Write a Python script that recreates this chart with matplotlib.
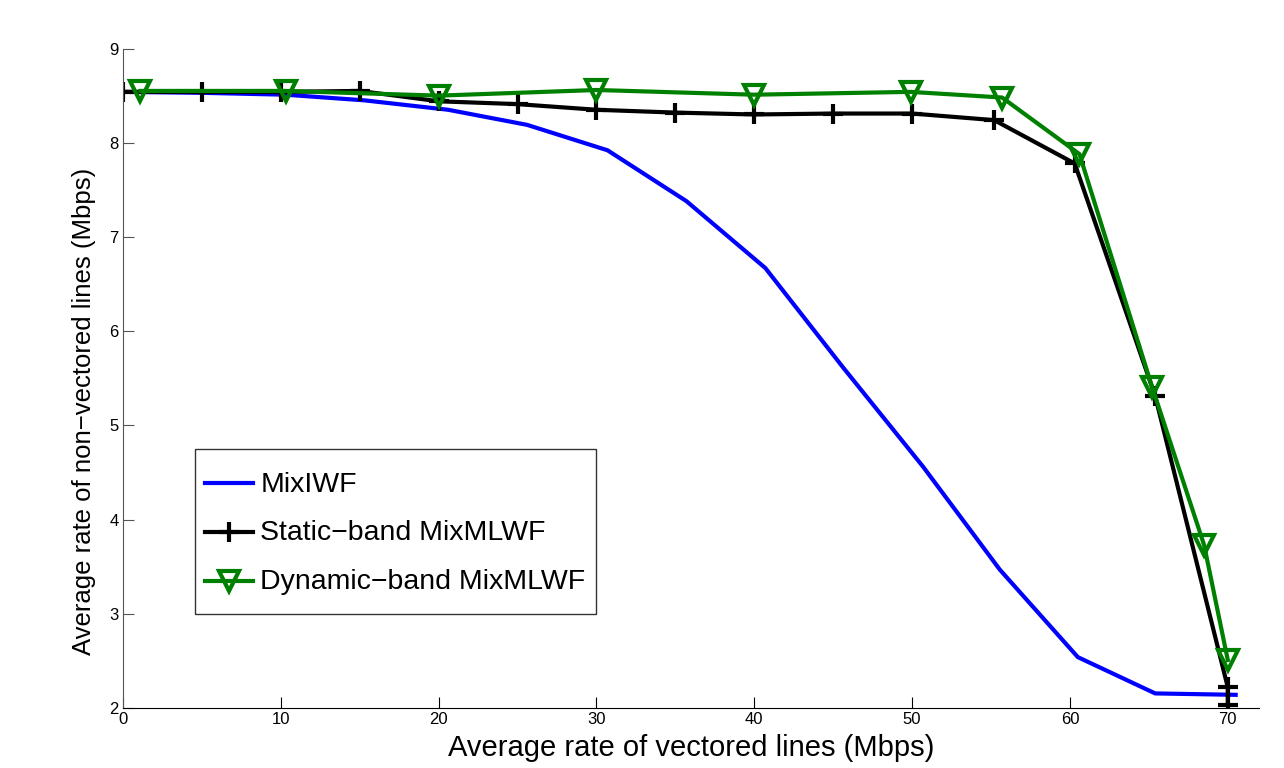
import matplotlib
matplotlib.use("Agg")
import matplotlib.pyplot as plt
import numpy as np
from matplotlib.lines import Line2D
from matplotlib.legend_handler import HandlerLine2D

plt.rcParams['font.family'] = ['Liberation Sans', 'DejaVu Sans']

mix_x = [0, 5, 10.3, 15.3, 20.6, 25.6, 30.7, 35.7, 40.7, 45.6, 50.7, 55.55, 60.5, 65.4, 70.5]
mix_y = [8.54, 8.53, 8.51, 8.45, 8.35, 8.19, 7.92, 7.38, 6.67, 5.62, 4.56, 3.47, 2.54, 2.155, 2.14]

static_x = [0, 5, 10, 15, 20, 25, 30, 35, 40, 45, 50, 55.2, 60.3, 65.4, 70, 70]
static_y = [8.54, 8.54, 8.54, 8.55, 8.44, 8.41, 8.35, 8.32, 8.30, 8.31, 8.31, 8.24, 7.78, 5.31, 2.22, 2.03]

dyn_x = [1.1, 10.3, 20.0, 30.0, 40.0, 49.9, 55.7, 60.6, 65.2, 68.5, 70.0]
dyn_y = [8.55, 8.55, 8.50, 8.56, 8.51, 8.54, 8.48, 7.88, 5.41, 3.73, 2.51]

labels = ['MixIWF', 'Static\u2212band MixMLWF', 'Dynamic\u2212band MixMLWF']
xticks = [0, 10, 20, 30, 40, 50, 60, 70]
yticks = [2, 3, 4, 5, 6, 7, 8, 9]


class ShiftedHandler(HandlerLine2D):
    def create_artists(self, legend, orig_handle, xdescent, ydescent,
                       width, height, fontsize, trans):
        artists = super().create_artists(legend, orig_handle, xdescent, ydescent,
                                         width, height, fontsize, trans)
        for a in artists:
            a.set_ydata(np.asarray(a.get_ydata(), dtype=float) - 5.8)
        return artists


fig = plt.figure(figsize=(12.84, 7.68), dpi=100)
ax = fig.add_axes([0.0958, 0.0781, 0.885, 0.8587])

ax.plot(mix_x, mix_y, color='#0000ff', lw=3.0, label=labels[0])
ax.plot(static_x, static_y, color='black', lw=3.0, marker='+', ms=14, mew=3.0, label=labels[1])
ax.plot(dyn_x, dyn_y, color='#008000', lw=3.0, marker='v', ms=15, mew=3.0,
        mfc='none', mec='#008000', label=labels[2])

ax.set_xlim(0, 72)
ax.set_ylim(2, 9)
ax.set_xticks(xticks)
ax.set_yticks(yticks)
ax.spines['top'].set_visible(False)
ax.spines['right'].set_visible(False)
ax.spines['left'].set_color('#555555')
ax.tick_params(direction='in', length=8, width=0.8, labelsize=12, pad=3)
ax.tick_params(axis='y', colors='#555555', labelcolor='black')

ax.set_xlabel('Average rate of vectored lines (Mbps)', fontsize=21, labelpad=5)
ax.set_ylabel('Average rate of non\u2212vectored lines (Mbps)', fontsize=18.5)
ax.yaxis.set_label_coords(-0.024, 0.45)

leg = ax.legend(loc='lower left', bbox_to_anchor=(0.0633, 0.1425), borderaxespad=0,
                fontsize=20.5, frameon=True, fancybox=False, edgecolor='black',
                handlelength=1.7, handleheight=2.22, handletextpad=0.25,
                labelspacing=0.02, borderpad=0.35,
                handler_map={Line2D: ShiftedHandler()})
leg.get_frame().set_linewidth(1.0)

fig.savefig('out.png', dpi=100)
